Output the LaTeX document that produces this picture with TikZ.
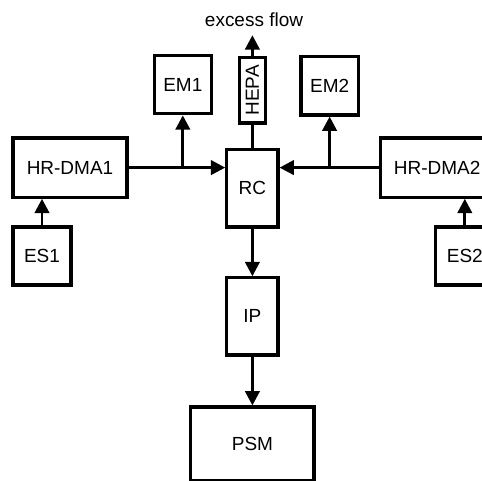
\documentclass[tikz,border=0pt]{standalone}
\usepackage{fontspec}
\setmainfont{Liberation Sans}
\usetikzlibrary{arrows.meta}
\begin{document}
\begin{tikzpicture}[
   font=\fontsize{13.5}{16}\selectfont,
   box/.style={rectangle, draw, line width=2.2pt, inner sep=0pt},
   arrow/.style={-{Triangle[length=0.36cm, width=0.36cm]}, line width=2.1pt},
   line/.style={line width=2.1pt}
]
\useasboundingbox (0,0) rectangle (12.05,12);
\clip (0,0) rectangle (12.05,12);

% Center line
\node[box, minimum width=0.65cm, minimum height=1.63cm] (hepa) at (6.31,9.74) {\rotatebox{90}{HEPA}};
\node[box, minimum width=1.28cm, minimum height=1.93cm] (rc) at (6.31,7.29) {RC};
\node[box, minimum width=1.28cm, minimum height=1.93cm] (ip) at (6.31,4.09) {IP};
\node[box, minimum width=3.08cm, minimum height=1.85cm] (psm) at (6.31,0.9) {PSM};
\coordinate (out) at (6.31,11.12);
\node (excess) at (6.35,11.5) {excess flow};
\draw[line] (rc) -- (hepa);
\draw[arrow] (hepa) -- (out);
\draw[arrow] (rc) -- (ip);
\draw[arrow] (ip) -- (psm);

% Left side
\node[box, minimum width=2.85cm, minimum height=1.48cm] (dma1) at (1.75,7.81) {HR-DMA1};
\node[box, minimum width=1.43cm, minimum height=1.45cm] (em1) at (4.57,9.88) {EM1};
\node[box, minimum width=1.45cm, minimum height=1.45cm] (es1) at (1.05,5.6) {ES1};
\draw[arrow] (dma1.east) -- (dma1.east -| rc.west);
\draw[arrow] (em1.south |- dma1.east) -- (em1.south);
\draw[arrow] (es1) -- (es1 |- dma1.south);

% Right side
\node[box, minimum width=2.85cm, minimum height=1.48cm] (dma2) at (10.93,7.81) {HR-DMA2};
\node[box, minimum width=1.43cm, minimum height=1.47cm] (em2) at (8.24,9.86) {EM2};
\node[box, minimum width=1.45cm, minimum height=1.45cm] (es2) at (11.62,5.6) {ES2};
\draw[arrow] (dma2.west) -- (dma2.west -| rc.east);
\draw[arrow] (em2.south |- dma2.west) -- (em2.south);
\draw[arrow] (es2) -- (es2 |- dma2.south);

\end{tikzpicture}
\end{document}
